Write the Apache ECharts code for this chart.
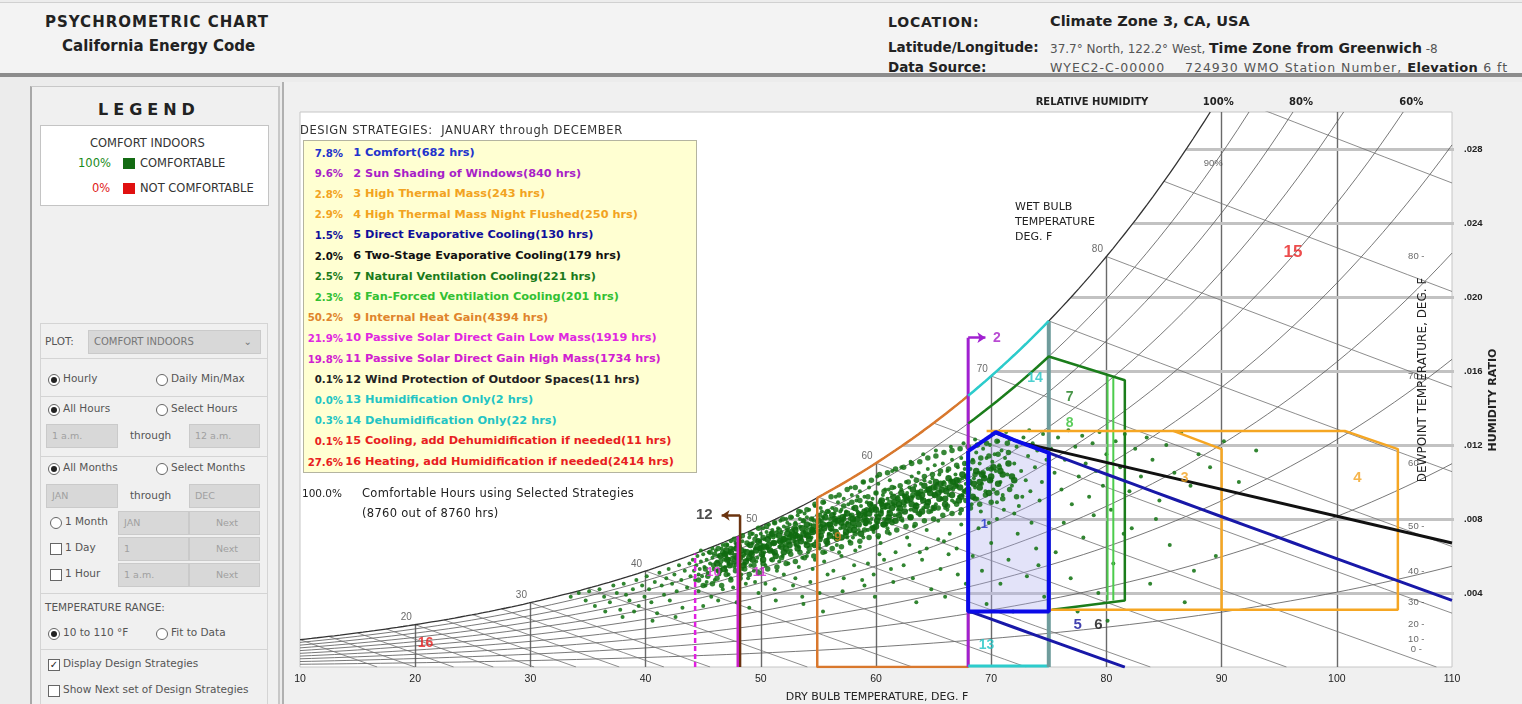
<!DOCTYPE html>
<html>
<head>
<meta charset="utf-8">
<title>Psychrometric Chart</title>
<script src="https://cdn.jsdelivr.net/npm/echarts@6/dist/echarts.min.js"></script>
<style>
  html,body{margin:0;padding:0}
  body{width:1522px;height:704px;background:#ececec;position:relative;overflow:hidden;
       font-family:"DejaVu Sans",Verdana,sans-serif;color:#222}
  .t{position:absolute;white-space:nowrap}
  #hdr{position:absolute;left:0;top:2px;width:1522px;height:70px;background:#f3f3f3;
       border-top:1px solid #d0d0d0;border-bottom:4px solid #8c8c8c}
  #panel{position:absolute;left:30px;top:86px;width:246px;height:618px;background:#f0f0f0;
         border-left:2px solid #a8a8a8;border-right:2px solid #c8c8c8;border-top:1px solid #c8c8c8}
  .grp{position:absolute;left:8px;width:228px;border:1px solid #d4d4d4;box-sizing:border-box}
  .radio{position:absolute;width:10px;height:10px;border:1px solid #666;border-radius:50%;background:#fff}
  .radio.on::after{content:"";position:absolute;left:2px;top:2px;width:6px;height:6px;border-radius:50%;background:#222}
  .chk{position:absolute;width:10px;height:10px;border:1px solid #666;background:#fff;font-size:10px;line-height:10px;text-align:center}
  .dd{position:absolute;height:24px;background:#d8d8d8;border:1px solid #cacaca;box-sizing:border-box;
      font-size:9.5px;color:#a0a0a0;line-height:22px;padding-left:5px}
  .lbl{font-size:10.5px;color:#555}
  #chartWrap{position:absolute;left:282px;top:82px;width:1240px;height:622px;background:#f0f0f0;
             border-left:2px solid #b0b0b0;box-sizing:border-box}
  #chart{position:absolute;left:-2px;top:0;width:1240px;height:622px}
  #strat{position:absolute;left:303px;top:140px;width:394px;height:333px;background:#ffffd2;
         border:1px solid #b4b4a0;box-sizing:border-box;z-index:5}
  .row{position:absolute;font-size:11.3px;font-weight:bold;white-space:nowrap;line-height:14px}
  .note{font-size:11.5px;color:#222;z-index:5;letter-spacing:0.3px}
</style>
</head>
<body>

<div id="hdr">
  <div class="t" style="left:45px;top:10px;font-size:15px;font-weight:bold;letter-spacing:1px">PSYCHROMETRIC CHART</div>
  <div class="t" style="left:62px;top:34px;font-size:15px;font-weight:bold">California Energy Code</div>
  <div class="t" style="left:888px;top:11px;font-size:14px;font-weight:bold;letter-spacing:0.8px">LOCATION:</div>
  <div class="t" style="left:1050px;top:10px;font-size:14.5px;font-weight:bold">Climate Zone 3, CA, USA</div>
  <div class="t" style="left:888px;top:36px;font-size:13.5px;font-weight:bold">Latitude/Longitude:</div>
  <div class="t" style="left:1050px;top:37px;font-size:12px;color:#555">37.7° North, 122.2° West, <b style="color:#222;font-size:14px">Time Zone from Greenwich</b> -8</div>
  <div class="t" style="left:888px;top:56px;font-size:13.5px;font-weight:bold">Data Source:</div>
  <div class="t" style="left:1050px;top:57px;font-size:12.5px;color:#555;letter-spacing:1px">WYEC2-C-00000&nbsp;&nbsp;&nbsp; 724930 WMO Station Number, <b style="color:#222;font-size:13px;letter-spacing:0.3px">Elevation</b> 6 ft</div>
</div>

<div id="panel">
  <div class="t" style="left:66px;top:13px;font-size:16px;font-weight:bold;letter-spacing:5px">LEGEND</div>
  <div style="position:absolute;left:8px;top:38px;width:229px;height:81px;background:#fff;border:1px solid #c4c4c4;box-sizing:border-box"></div>
  <div class="t" style="left:58px;top:49px;color:#333;font-size:11.5px">COMFORT INDOORS</div>
  <div class="t" style="left:46px;top:69px;font-size:11.5px;color:#1a8a1a">100%</div>
  <div style="position:absolute;left:91px;top:71px;width:12px;height:11px;background:#136b13"></div>
  <div class="t" style="left:108px;top:69px;color:#333;font-size:11.5px">COMFORTABLE</div>
  <div class="t" style="left:60px;top:94px;font-size:11.5px;color:#e02020">0%</div>
  <div style="position:absolute;left:91px;top:96px;width:12px;height:11px;background:#e01010"></div>
  <div class="t" style="left:108px;top:94px;color:#333;font-size:11.5px">NOT COMFORTABLE</div>

  <div class="grp" style="top:236px;height:36px"></div>
  <div class="t lbl" style="left:13px;top:248px">PLOT:</div>
  <div class="dd" style="left:56px;top:243px;width:173px;color:#777;font-size:10px">COMFORT INDOORS<span style="position:absolute;right:8px">⌄</span></div>

  <div class="grp" style="top:271px;height:39px"></div>
  <div class="radio on" style="left:16px;top:287px"></div><div class="t lbl" style="left:31px;top:285px">Hourly</div>
  <div class="radio" style="left:124px;top:287px"></div><div class="t lbl" style="left:139px;top:285px">Daily Min/Max</div>

  <div class="grp" style="top:309px;height:61px"></div>
  <div class="radio on" style="left:16px;top:317px"></div><div class="t lbl" style="left:31px;top:315px">All Hours</div>
  <div class="radio" style="left:124px;top:317px"></div><div class="t lbl" style="left:139px;top:315px">Select Hours</div>
  <div class="dd" style="left:14px;top:337px;width:72px">1 a.m.</div>
  <div class="t lbl" style="left:98px;top:342px">through</div>
  <div class="dd" style="left:157px;top:337px;width:71px">12 a.m.</div>

  <div class="grp" style="top:369px;height:138px"></div>
  <div class="radio on" style="left:16px;top:376px"></div><div class="t lbl" style="left:31px;top:374px">All Months</div>
  <div class="radio" style="left:124px;top:376px"></div><div class="t lbl" style="left:139px;top:374px">Select Months</div>
  <div class="dd" style="left:14px;top:397px;width:72px">JAN</div>
  <div class="t lbl" style="left:98px;top:402px">through</div>
  <div class="dd" style="left:157px;top:397px;width:71px">DEC</div>
  <div class="radio" style="left:18px;top:430px"></div><div class="t lbl" style="left:33px;top:428px">1 Month</div>
  <div class="dd" style="left:86px;top:424px;width:71px">JAN</div>
  <div class="dd" style="left:157px;top:424px;width:71px;text-align:center">Next</div>
  <div class="chk" style="left:18px;top:456px"></div><div class="t lbl" style="left:33px;top:454px">1 Day</div>
  <div class="dd" style="left:86px;top:450px;width:71px">1</div>
  <div class="dd" style="left:157px;top:450px;width:71px;text-align:center">Next</div>
  <div class="chk" style="left:18px;top:482px"></div><div class="t lbl" style="left:33px;top:480px">1 Hour</div>
  <div class="dd" style="left:86px;top:476px;width:71px">1 a.m.</div>
  <div class="dd" style="left:157px;top:476px;width:71px;text-align:center">Next</div>

  <div class="grp" style="top:506px;height:57px"></div>
  <div class="t lbl" style="left:13px;top:514px">TEMPERATURE RANGE:</div>
  <div class="radio on" style="left:16px;top:541px"></div><div class="t lbl" style="left:31px;top:539px">10 to 110 °F</div>
  <div class="radio" style="left:124px;top:541px"></div><div class="t lbl" style="left:139px;top:539px">Fit to Data</div>

  <div class="grp" style="top:562px;height:56px"></div>
  <div class="chk" style="left:16px;top:572px">✓</div><div class="t lbl" style="left:31px;top:570px">Display Design Strategies</div>
  <div class="chk" style="left:16px;top:598px"></div><div class="t lbl" style="left:31px;top:596px">Show Next set of Design Strategies</div>
</div>

<div id="chartWrap"><div id="chart"></div></div>

<div class="t note" style="left:300px;top:123px;font-size:11.5px;color:#333;letter-spacing:0.6px">DESIGN STRATEGIES:&nbsp; JANUARY through DECEMBER</div>
<div id="strat"></div>
<div class="t note" style="left:290px;top:487px;width:52px;text-align:right;letter-spacing:0;font-size:10.5px">100.0%</div>
<div class="t note" style="left:362px;top:486px">Comfortable Hours using Selected Strategies</div>
<div class="t note" style="left:362px;top:506px">(8760 out of 8760 hrs)</div>

<script>
// ---------------- design strategy table ----------------
const strategyNames = [
  'Comfort', 'Sun Shading of Windows', 'High Thermal Mass', 'High Thermal Mass Night Flushed',
  'Direct Evaporative Cooling', 'Two-Stage Evaporative Cooling', 'Natural Ventilation Cooling',
  'Fan-Forced Ventilation Cooling', 'Internal Heat Gain', 'Passive Solar Direct Gain Low Mass',
  'Passive Solar Direct Gain High Mass', 'Wind Protection of Outdoor Spaces', 'Humidification Only',
  'Dehumidification Only', 'Cooling, add Dehumidification if needed', 'Heating, add Humidification if needed'
];
const strategyHours = [682, 840, 243, 250, 130, 179, 221, 201, 4394, 1919, 1734, 11, 2, 22, 11, 2414];
const strategyColors = ['#2233cc', '#a81fc8', '#f2a321', '#f2a321', '#10109a', '#111111', '#1a7a1a',
  '#33c033', '#e0842c', '#e028e0', '#d020d0', '#222222', '#22c4c4', '#22c4c4', '#e82020', '#e82020'];
const HOURS_PER_YEAR = 8760;

// ---------------- chart axes ----------------
const T_MIN = 10, T_MAX = 110, T_STEP = 10;      // dry bulb, deg F
const W_MIN = 0, W_MAX = 0.030, W_STEP = 0.004;  // humidity ratio, lb/lb
const rhCurves = [0.1, 0.2, 0.3, 0.4, 0.5, 0.6, 0.7, 0.8, 0.9];
const rhTopLabels = [[1.0, '100%'], [0.8, '80%'], [0.6, '60%']];
const wetBulbLines = [10, 12.5, 15, 17.5, 20, 22.5, 25, 27.5, 30, 35, 40, 45, 50, 55, 60, 65, 70, 75, 80, 85, 90];
const wetBulbLabels = [20, 30, 40, 50, 60, 70, 80];
const dewPointLabels = [80, 70, 60, 50, 40, 30, 20, 10, 0];
const dryBulbVerticals = [20, 30, 40, 50, 60, 70, 80, 90, 100];
const humidityLines = [0.004, 0.008, 0.012, 0.016, 0.020, 0.024, 0.028];

// ---------------- hourly weather (dry bulb F, humidity ratio x 1e-4) ----------------
const HR_UNIT = 1e-4;
const hours33to44 = [33.5,38, 34.2,40, 34.8,36, 35.1,41, 35.6,33, 36.0,42, 36.4,38, 36.9,35, 37.2,44, 37.5,40,
  37.8,31, 38.1,45, 38.3,39, 38.6,36, 38.9,42, 39.2,47, 39.4,33, 39.7,44, 39.9,38, 40.1,49, 40.3,42, 40.5,35,
  40.8,46, 41.0,29, 41.2,51, 41.4,44, 41.6,39, 41.8,48, 42.0,53, 42.1,36, 42.3,45, 42.5,50, 42.7,41, 42.9,55,
  43.1,47, 43.2,32, 43.4,52, 43.6,43, 43.8,56, 43.9,49, 38.0,27, 40.6,25, 42.6,27, 36.5,30, 39.0,30];
const hours44to50 = [44.1,58, 44.2,52, 44.3,47, 44.4,55, 44.5,60, 44.6,41, 44.7,53, 44.8,57, 44.9,49, 45.0,61,
  45.1,54, 45.2,44, 45.3,58, 45.4,51, 45.5,62, 45.6,56, 45.7,38, 45.8,59, 45.9,53, 46.0,47, 46.1,63, 46.2,57,
  46.3,60, 46.4,50, 46.5,55, 46.6,64, 46.7,42, 46.8,58, 46.9,61, 47.0,52, 47.1,66, 47.2,56, 47.3,62, 47.4,48,
  47.5,59, 47.6,64, 47.7,54, 47.8,67, 47.9,35, 48.0,61, 48.1,57, 48.2,65, 48.3,50, 48.4,68, 48.5,60, 48.6,63,
  48.7,45, 48.8,58, 48.9,66, 49.0,70, 49.1,55, 49.2,62, 49.3,67, 49.4,52, 49.5,64, 49.6,71, 49.7,59, 49.8,40,
  49.9,68, 44.6,50, 45.3,46, 46.2,52, 47.0,60, 47.8,55, 48.4,53, 49.1,61, 49.6,57, 45.8,64, 46.7,66, 47.4,68,
  48.2,70, 49.3,72, 48.9,48, 46.3,36, 47.6,43, 49.0,32, 45.0,33, 48.1,38, 49.5,46, 44.8,63, 46.9,54, 48.6,56, 47.2,50];
const hours50to56 = [50.0,72, 50.1,66, 50.2,60, 50.2,75, 50.3,69, 50.4,55, 50.5,73, 50.6,64, 50.7,77, 50.8,70,
  50.9,58, 51.0,74, 51.0,67, 51.1,62, 51.2,78, 51.3,71, 51.4,52, 51.5,75, 51.5,68, 51.6,65, 51.7,79, 51.8,73,
  51.9,60, 52.0,76, 52.0,70, 52.1,66, 52.2,80, 52.3,74, 52.4,56, 52.5,77, 52.5,71, 52.6,63, 52.7,81, 52.8,75,
  52.9,68, 53.0,78, 53.0,48, 53.1,72, 53.2,82, 53.3,65, 53.4,76, 53.5,70, 53.5,84, 53.6,59, 53.7,79, 53.8,73,
  53.9,67, 54.0,81, 54.0,75, 54.1,62, 54.2,85, 54.3,77, 54.4,70, 54.5,53, 54.5,80, 54.6,74, 54.7,87, 54.8,68,
  54.9,82, 55.0,76, 55.0,71, 55.1,64, 55.2,86, 55.3,79, 55.4,73, 55.5,89, 55.5,57, 55.6,83, 55.7,77, 55.8,69,
  55.9,84, 50.4,45, 51.2,42, 52.0,50, 52.8,44, 53.6,38, 54.3,46, 55.1,40, 55.8,50, 51.6,57, 53.3,54, 54.7,58,
  50.9,63, 51.8,68, 52.6,72, 53.4,80, 54.1,72, 54.9,78, 55.4,81, 50.6,71, 51.4,73, 52.3,78, 53.1,75, 53.8,83,
  54.6,79, 55.3,84, 55.9,72, 50.3,62, 51.1,70, 52.2,69, 53.0,66, 53.9,71, 54.4,66, 55.2,74, 55.7,66, 52.4,62,
  54.0,60, 55.6,62, 51.3,36, 53.7,34, 55.4,30];
const hours56to62 = [56.0,80, 56.1,74, 56.2,86, 56.3,70, 56.4,83, 56.5,77, 56.6,66, 56.7,89, 56.8,81, 56.9,75,
  57.0,85, 57.0,60, 57.1,79, 57.2,91, 57.3,72, 57.4,84, 57.5,78, 57.6,88, 57.7,68, 57.8,82, 57.9,93, 58.0,76,
  58.0,86, 58.1,80, 58.2,63, 58.3,90, 58.4,84, 58.5,74, 58.6,95, 58.7,87, 58.8,79, 58.9,70, 59.0,92, 59.0,83,
  59.1,77, 59.2,89, 59.3,56, 59.4,97, 59.5,85, 59.6,80, 59.7,91, 59.8,73, 59.9,87, 60.0,94, 60.0,82, 60.1,78,
  60.2,99, 60.3,89, 60.4,67, 60.5,85, 60.6,93, 60.7,80, 60.8,96, 60.9,88, 61.0,75, 61.0,91, 61.1,84, 61.2,101,
  61.3,94, 61.4,79, 61.5,88, 61.6,97, 61.7,62, 61.8,91, 61.9,85, 56.3,52, 57.2,48, 58.1,55, 59.0,44, 59.8,50,
  60.7,58, 61.5,46, 56.8,62, 58.6,65, 60.2,70, 61.2,72, 57.5,70, 59.3,74, 60.9,77, 56.5,92, 57.8,97, 58.9,100,
  60.1,103, 61.4,106, 56.9,84, 57.7,80, 58.4,92, 59.6,88, 60.4,90, 61.1,96, 61.7,87, 56.2,78, 57.3,82, 58.2,76,
  59.1,82, 60.5,84, 61.6,82, 56.7,72, 58.0,70, 59.5,78, 60.8,86, 61.9,92, 57.1,41, 59.9,38, 61.3,53, 58.8,47, 60.3,61];
const hours62to68 = [62.0,90, 62.1,84, 62.2,96, 62.3,79, 62.4,93, 62.5,87, 62.6,100, 62.7,70, 62.8,91, 62.9,97,
  63.0,85, 63.1,103, 63.2,92, 63.3,76, 63.4,98, 63.5,88, 63.6,94, 63.7,105, 63.8,82, 63.9,99, 64.0,91, 64.1,86,
  64.2,101, 64.3,95, 64.4,64, 64.5,107, 64.6,90, 64.7,97, 64.8,84, 64.9,102, 65.0,93, 65.1,109, 65.2,88, 65.3,99,
  65.4,79, 65.5,104, 65.6,95, 65.7,91, 65.8,110, 65.9,100, 66.0,86, 66.1,97, 66.2,106, 66.3,93, 66.4,72, 66.5,101,
  66.6,112, 66.7,96, 66.8,89, 66.9,104, 67.0,98, 67.1,108, 67.2,92, 67.3,83, 67.4,113, 67.5,102, 67.6,95, 67.7,107,
  67.8,99, 67.9,110, 62.4,55, 63.2,48, 64.0,58, 64.8,42, 65.6,53, 66.3,61, 67.1,50, 67.8,45, 62.9,66, 64.4,74,
  65.9,68, 67.4,77, 63.5,35, 66.0,38, 62.2,108, 63.0,111, 64.1,115, 65.2,117, 66.5,119, 67.6,121, 63.6,83, 65.0,86,
  66.6,90, 62.7,94, 64.7,100, 66.2,85, 67.5,93, 63.8,62, 65.4,69, 67.0,64];
const hours68to75 = [68.0,100, 68.1,94, 68.2,107, 68.3,88, 68.4,112, 68.5,102, 68.6,97, 68.7,116, 68.8,91, 68.9,105,
  69.0,110, 69.1,84, 69.2,99, 69.3,118, 69.4,103, 69.5,95, 69.6,113, 69.7,107, 69.8,78, 69.9,120, 70.0,101, 70.1,111,
  70.2,96, 70.3,115, 70.4,106, 70.5,89, 70.6,122, 70.7,109, 70.8,100, 70.9,117, 71.0,93, 71.2,113, 71.4,104, 71.6,123,
  71.8,98, 72.0,110, 72.2,119, 72.4,87, 72.6,106, 72.8,124, 73.0,101, 73.2,114, 73.4,95, 73.6,121, 73.8,108, 74.0,117,
  74.2,90, 74.5,126, 74.8,112, 68.4,60, 69.2,52, 70.0,67, 70.8,45, 71.5,58, 72.3,72, 73.1,49, 73.9,64, 74.6,38,
  68.9,75, 70.5,80, 72.0,83, 73.5,78, 69.6,34, 71.9,30, 74.1,55, 68.6,123, 70.2,126, 71.3,127, 73.3,128, 71.1,85,
  72.7,92, 74.4,100];
const hours75to93 = [75.2,118, 75.5,105, 75.8,124, 76.1,96, 76.4,112, 76.7,128, 77.0,88, 77.3,119, 77.6,103, 77.9,125,
  78.2,110, 78.5,92, 78.8,121, 79.1,106, 79.4,127, 79.7,98, 80.0,115, 80.4,85, 80.8,122, 81.2,108, 81.6,126, 82.0,95,
  82.5,118, 83.0,103, 83.5,124, 84.0,112, 84.6,90, 85.2,120, 85.9,105, 86.5,127, 87.3,98, 88.0,115, 89.0,108,
  90.2,122, 91.5,100, 93.0,117, 75.6,62, 76.9,48, 78.0,70, 79.3,40, 80.6,56, 82.2,75, 83.8,45, 85.5,66, 87.6,52,
  76.3,78, 78.9,82, 81.5,72, 84.3,80, 86.8,35, 89.5,60, 77.5,30, 80.1,25];
// the most frequent conditions, where hours pile up along the mild, humid band
const hoursCoreBand = [46.2,56, 46.5,60, 46.8,53, 47.1,58, 47.4,62, 47.7,57, 47.9,64, 48.2,59, 48.5,55, 48.8,62,
  49.1,66, 49.3,58, 49.6,63, 49.8,68, 50.1,61, 50.3,65, 50.6,69, 50.8,63, 51.1,67, 51.3,60, 51.6,71, 51.8,65, 52.0,69,
  52.3,72, 52.5,66, 52.8,70, 53.0,74, 53.2,64, 53.5,68, 53.7,72, 54.0,77, 54.2,69, 54.5,73, 54.7,66, 55.0,79, 55.2,71,
  55.5,75, 55.7,68, 56.0,77, 56.2,82, 56.5,73, 56.7,79, 57.0,70, 57.2,76, 57.5,83, 57.7,74, 58.0,80, 58.2,86, 58.5,77,
  58.7,72, 59.0,84, 59.2,79, 59.5,88, 59.7,75, 60.0,85, 60.2,81, 60.5,90, 60.7,77, 61.0,87, 61.2,83, 61.5,92, 61.7,79,
  62.0,88, 62.2,94, 62.5,84, 62.7,90, 63.0,81, 63.2,96, 63.5,87, 63.7,92, 64.0,84, 64.2,98, 64.5,89, 64.7,94, 65.0,86,
  65.2,100, 65.5,91, 65.7,96, 66.0,88, 66.3,102, 66.6,93, 66.9,98, 67.2,90, 67.5,104, 67.8,95, 68.1,100, 68.4,92,
  68.7,106, 69.0,97, 69.4,102, 69.8,94, 70.2,108, 70.6,99, 71.0,104, 71.5,110, 72.0,101,
  46.4,52, 46.9,61, 47.3,55, 47.8,60, 48.3,63, 48.7,57, 49.2,61, 49.7,65, 50.2,58, 50.7,66, 51.2,62, 51.7,68, 52.2,64,
  52.7,73, 53.1,67, 53.6,75, 54.1,71, 54.6,76, 55.1,69, 55.6,81, 56.1,75, 56.6,70, 57.1,81, 57.6,77, 58.1,74, 58.6,82,
  59.1,78, 59.6,85, 60.1,79, 60.6,87, 61.1,81, 61.6,89, 62.1,86, 62.6,92, 63.1,88, 63.6,94, 64.1,90, 64.6,96, 65.1,93,
  65.6,99, 66.1,95, 66.7,100, 67.3,97, 67.9,103, 68.5,99, 69.2,104, 69.9,101, 70.8,106, 71.8,103,
  47.0,63, 48.0,66, 49.0,59, 50.0,64, 51.0,72, 52.0,62, 53.0,71, 54.0,66, 55.0,73, 56.0,71, 57.0,78, 58.0,78, 59.0,81,
  60.0,76, 61.0,79, 62.0,82, 63.0,91, 64.0,93, 65.0,97, 66.0,91, 67.0,101, 68.0,96, 69.0,100, 70.0,103, 52.4,68,
  53.4,70, 54.4,74, 55.4,77, 56.4,80, 57.4,73, 58.4,80, 59.4,83, 60.4,83, 61.4,86, 62.4,89, 63.4,85, 64.4,87, 65.4,94,
  66.4,97, 67.4,92];
// the drier and the more humid flanks of that band
const hoursBandFlanks = [44.6,47, 45.0,44, 45.4,49, 45.8,45, 46.2,48, 46.6,44, 47.0,50, 47.4,47, 47.8,52, 48.2,48,
  48.6,53, 49.0,50, 49.4,55, 49.8,51, 50.2,56, 50.6,53, 51.0,58, 51.4,54, 51.8,59, 52.2,56, 52.6,61, 53.0,57, 53.4,62,
  53.8,59, 54.2,64, 54.6,60, 55.0,66, 55.4,62, 55.8,67, 56.2,64, 56.6,69, 57.0,65, 57.4,71, 57.8,67, 58.2,72, 58.6,68,
  59.0,74, 59.4,70, 59.8,75, 60.2,71, 60.6,77, 61.0,73, 61.4,78, 61.8,74, 62.2,80, 62.6,76, 63.0,81, 63.4,77, 63.8,83,
  64.2,79, 64.6,84, 65.0,80, 65.4,86, 65.8,82, 66.2,87, 66.6,83, 67.0,88, 67.4,85, 67.8,90, 68.2,86, 68.6,91, 69.0,88,
  69.5,93, 70.0,89, 70.5,94, 71.0,91, 71.6,96, 72.2,92,
  45.2,53, 45.9,55, 46.5,57, 47.2,58, 47.9,59, 48.5,61, 49.2,62, 49.9,64, 50.5,65, 51.2,67, 51.9,68, 52.5,70, 53.2,71,
  53.9,73, 54.5,74, 55.2,76, 55.9,77, 56.5,79, 57.2,80, 57.9,82, 58.5,83, 59.2,85, 59.9,86, 60.5,88, 61.2,89, 61.9,91,
  62.5,92, 63.2,93, 63.9,95, 64.5,96, 65.2,97, 65.9,99, 66.5,100, 67.2,101, 67.9,103, 68.6,104, 69.3,105, 70.0,107, 70.7,108,
  45.6,62, 46.3,64, 47.0,66, 47.7,69, 48.4,71, 49.1,72, 49.8,75, 50.5,76, 51.2,78, 51.9,80, 52.6,81, 53.3,84, 54.0,85,
  54.7,88, 55.4,89, 56.1,92, 56.8,93, 57.5,96, 58.2,97, 58.9,100, 59.6,101, 60.3,104, 61.0,105, 61.7,107, 62.4,108,
  63.1,110, 63.8,111, 64.5,113, 65.2,114, 65.9,116, 66.6,117, 67.3,118, 68.0,119, 68.8,120, 69.6,121, 70.5,122, 71.4,121,
  46.0,61, 46.7,62, 47.4,64, 48.1,66, 48.8,67, 49.5,69, 50.2,70, 50.9,72, 51.6,74, 52.3,75, 53.0,77, 53.7,79, 54.4,80,
  55.1,82, 55.8,84, 56.5,85, 57.2,87, 57.9,89, 58.6,90, 59.3,92, 60.0,94, 60.7,95, 61.4,97, 62.1,98, 62.8,100, 63.5,101,
  64.2,103, 64.9,104, 65.6,106, 66.3,107, 67.0,109, 67.7,110, 68.4,111, 69.1,113, 69.8,114, 70.6,115, 71.5,116];

// ---------------- strategy zone outlines (dry bulb F, humidity ratio) ----------------
// plain [t, w] vertices, or {rh, from, to} / {wb, from, to} segments that follow a psychrometric curve
const comfortZone = [{rh: 0.8, from: 68, to: 70.4}, {wb: 66, from: 70.4, to: 75}, [75, 0.003], [68, 0.003]];
const sunShadingEdge = [[68, 0], [68, 0.0178]];
const sunShadingArrow = [[68, 0.0178], [69.5, 0.0178]];
const thermalMassZone = [[69.6, 0.01276], [85.8, 0.01276], [90, 0.01178], [90, 0.0031], [75, 0.0031]];
const nightFlushZone = [[85.8, 0.01276], [100.7, 0.01276], [105.3, 0.01178], [105.3, 0.0031], [90, 0.0031]];
const directEvapUpper = [{wb: 66, from: 70.4, to: 110}];
const directEvapLower = [{wb: 49, from: 68, to: 81.6}];
const twoStageEvapEdge = [[72.8, 0.0121], [110, 0.0067]];
const naturalVentZone = [{rh: 0.9, from: 68, to: 75}, [81.6, 0.0155], [81.6, 0.0036], [75.3, 0.0031]];
const fanForcedEdgeA = [[80.1, 0.0158], [80.1, 0.0036]];
const fanForcedEdgeB = [[80.6, 0.0157], [80.6, 0.0036]];
const internalGainZone = [{rh: 1, from: 54.9, to: 68}, [68, 0], [54.9, 0], {rh: 1, from: 54.9, to: 54.9}];
const lowMassEdge = [[44.3, 0], {rh: 1, from: 44.3, to: 44.3}];
const highMassEdge = [[48.0, 0], {rh: 1, from: 48.0, to: 48.0}];
const windEdge = [[48.2, 0], [48.2, 0.0082]];
const windArrow = [[48.2, 0.0082], [46.6, 0.0082]];
const humidifyEdge = [[68, 0.00006], [75, 0.00006]];
const humidityLimitEdge = [[75, 0], {rh: 1, from: 75, to: 75}];
const dehumidifyEdge = [{rh: 1, from: 68, to: 75}];

// zone number tags: [dry bulb, humidity ratio, text, strategy index, font size]
const zoneTags = [
  [69.4, 0.0077, '1', 0, 13], [70.5, 0.0178, '2', 1, 14], [86.8, 0.0102, '3', 2, 14], [101.8, 0.0102, '4', 3, 15],
  [77.5, 0.0023, '5', 4, 15], [79.3, 0.0023, '6', 5, 15], [76.8, 0.0146, '7', 6, 14], [76.8, 0.0132, '8', 7, 14],
  [56.7, 0.0070, '9', 8, 13], [45.9, 0.0051, '10', 9, 13], [49.9, 0.0051, '11', 10, 13], [45.1, 0.0082, '12', 11, 15],
  [69.6, 0.0012, '13', 12, 14], [73.8, 0.0156, '14', 13, 14], [96.2, 0.0224, '15', 14, 17], [20.9, 0.0013, '16', 15, 14]
];

// ---------------- psychrometrics (sea level) ----------------
const P_ATM = 101.325;
function satPress(tf) { const c = (tf - 32) / 1.8; return 0.61094 * Math.exp(17.625 * c / (c + 243.04)); }
function humRatio(tf, rh) { const pv = rh * satPress(tf); return 0.622 * pv / (P_ATM - pv); }
function wetBulbW(tf, twb) {
  const ws = humRatio(twb, 1);
  return ((1093 - 0.556 * twb) * ws - 0.240 * (tf - twb)) / (1093 + 0.444 * tf - twb);
}
function tempAt(w, rh) {
  let lo = -40, hi = 200;
  for (let i = 0; i < 60; i++) { const m = (lo + hi) / 2; if (humRatio(m, rh) < w) lo = m; else hi = m; }
  return (lo + hi) / 2;
}
function curve(f, a, b, step) {
  const out = [], n = Math.max(1, Math.ceil(Math.abs(b - a) / step));
  for (let i = 0; i <= n; i++) { const t = a + (b - a) * i / n; out.push([t, f(t)]); }
  return out;
}
function expand(path, closed) {
  const out = [];
  path.forEach(seg => {
    if (Array.isArray(seg)) out.push(seg);
    else if (seg.rh !== undefined) out.push(...curve(t => humRatio(t, seg.rh), seg.from, seg.to, 0.5));
    else out.push(...curve(t => wetBulbW(t, seg.wb), seg.from, seg.to, 2));
  });
  if (closed) out.push(out[0]);
  return out;
}
function pairs(flat) {
  const out = [];
  for (let i = 0; i < flat.length; i += 2) out.push([flat[i], flat[i + 1] * HR_UNIT]);
  return out;
}

// ---------------- strategy table ----------------
const box = document.getElementById('strat');
strategyNames.forEach((name, i) => {
  const top = 5 + i * 20.6;
  const pct = (strategyHours[i] / HOURS_PER_YEAR * 100).toFixed(1) + '%';
  const c = strategyColors[i];
  box.insertAdjacentHTML('beforeend',
    `<div class="row" style="left:-13px;top:${top + 0.5}px;width:52px;text-align:right;color:${c};font-size:10.2px">${pct}</div>` +
    `<div class="row" style="left:36px;top:${top}px;width:21px;text-align:right;color:${c}">${i + 1}</div>` +
    `<div class="row" style="left:61px;top:${top}px;color:${c}">${name}(${strategyHours[i]} hrs)</div>`);
});

// ---------------- chart ----------------
const chart = echarts.init(document.getElementById('chart'));
const tSatTop = tempAt(W_MAX, 1);
const fontStack = '"DejaVu Sans", Verdana, sans-serif';
const numFont = '"Liberation Sans", Arial, sans-serif';

const lineSeries = (pts, color, width, extra) => Object.assign({
  type: 'line', data: pts, showSymbol: false, symbol: 'none', silent: true, clip: true,
  lineStyle: {color: color, width: width}, z: 5
}, extra || {});

const series = [];
// dry bulb verticals up to saturation
series.push({
  type: 'lines', coordinateSystem: 'cartesian2d', silent: true, z: 1,
  lineStyle: {color: '#6a6a6a', width: 1.4, opacity: 1},
  data: dryBulbVerticals.map(t => ({coords: [[t, 0], [t, Math.min(humRatio(t, 1), W_MAX)]]}))
});
// humidity ratio horizontals from saturation to the right edge
series.push({
  type: 'lines', coordinateSystem: 'cartesian2d', silent: true, z: 1,
  lineStyle: {color: '#c2c2c2', width: 3, opacity: 1},
  data: humidityLines.map(w => ({coords: [[tempAt(w, 1), w], [T_MAX + 0.3, w]]}))
});
// relative humidity curves
series.push({
  type: 'lines', coordinateSystem: 'cartesian2d', polyline: true, silent: true, clip: true, z: 2,
  lineStyle: {color: '#555', width: 0.8, opacity: 1},
  data: rhCurves.map(rh => ({coords: curve(t => humRatio(t, rh), T_MIN, Math.min(T_MAX, tempAt(W_MAX, rh)), 1)}))
});
// wet bulb lines
series.push({
  type: 'lines', coordinateSystem: 'cartesian2d', polyline: true, silent: true, clip: true, z: 2,
  lineStyle: {color: '#707070', width: 0.8, opacity: 1},
  data: wetBulbLines.map(twb => {
    const tEnd = Math.min(T_MAX, twb + (1093 - 0.556 * twb) * humRatio(twb, 1) / 0.240);
    const tStart = humRatio(twb, 1) > W_MAX ? twb + 0.5 : twb;
    const pts = curve(t => wetBulbW(t, twb), tStart, tEnd, 2).filter(p => p[1] <= W_MAX + 0.002);
    return {coords: pts};
  })
});
// saturation curve
series.push(lineSeries(curve(t => humRatio(t, 1), T_MIN, tSatTop, 0.5), '#333', 1.3, {z: 3}));

// hourly conditions
series.push({
  type: 'scatter', silent: true, z: 4, symbol: 'circle', symbolSize: 4,
  itemStyle: {color: '#1b781b', opacity: 0.9},
  data: [].concat(pairs(hours33to44), pairs(hours44to50), pairs(hours50to56), pairs(hours56to62),
                  pairs(hours62to68), pairs(hours68to75), pairs(hours75to93))
});
series.push({
  type: 'scatter', silent: true, z: 4, symbol: 'circle', symbolSize: 5.5,
  itemStyle: {color: '#157215', opacity: 0.85},
  data: pairs(hoursBandFlanks)
});
series.push({
  type: 'scatter', silent: true, z: 4, symbol: 'circle', symbolSize: 6.5,
  itemStyle: {color: '#0f6a0f', opacity: 0.9},
  data: pairs(hoursCoreBand)
});

// comfort zone shading
const comfortPts = expand(comfortZone, true);
series.push({
  type: 'custom', silent: true, z: 3, data: [[70, 0.006]],
  renderItem: (params, api) => ({
    type: 'polygon',
    shape: {points: comfortPts.map(p => api.coord(p))},
    style: {fill: 'rgba(175,175,238,0.35)'}
  })
});

// strategy outlines
series.push(lineSeries(expand(internalGainZone), '#d9782d', 2.5));
series.push(lineSeries(expand(lowMassEdge), '#e020e0', 2.5, {lineStyle: {color: '#e020e0', width: 2.5, type: [5, 3]}}));
series.push(lineSeries(expand(windEdge), '#6b3410', 2.5));
series.push(lineSeries(expand(highMassEdge), '#c81fc8', 2.5));
series.push({type: 'lines', coordinateSystem: 'cartesian2d', silent: true, z: 6, symbol: ['none', 'arrow'], symbolSize: 8,
  lineStyle: {color: '#6b3410', width: 2.5, opacity: 1}, data: [{coords: windArrow}]});
series.push(lineSeries(expand(sunShadingEdge), '#a020d0', 3));
series.push({type: 'lines', coordinateSystem: 'cartesian2d', silent: true, z: 6, symbol: ['none', 'arrow'], symbolSize: 8,
  lineStyle: {color: '#a020d0', width: 2.5, opacity: 1}, data: [{coords: sunShadingArrow}]});
series.push(lineSeries(expand(humidifyEdge), '#2ccccc', 3));
series.push(lineSeries(expand(humidityLimitEdge), '#6f9c9c', 4));
series.push(lineSeries(expand(dehumidifyEdge), '#2ccccc', 2.5));
series.push(lineSeries(expand(fanForcedEdgeA), '#4ccc4c', 2));
series.push(lineSeries(expand(fanForcedEdgeB), '#4ccc4c', 2));
series.push(lineSeries(expand(naturalVentZone), '#1b7d1b', 2.5));
series.push(lineSeries(expand(thermalMassZone), '#f5a623', 2.5));
series.push(lineSeries(expand(nightFlushZone), '#f5a623', 2.5));
series.push(lineSeries(expand(directEvapUpper), '#1818a8', 3));
series.push(lineSeries(expand(directEvapLower), '#1818a8', 3));
series.push(lineSeries(expand(twoStageEvapEdge), '#111', 3));
series.push(lineSeries(comfortPts, '#0a0ae8', 4, {z: 7}));

// text placed on the chart in data coordinates
const textItems = [];
zoneTags.forEach(([t, w, txt, si, fs]) => textItems.push({
  value: [t, w],
  label: {formatter: txt, color: strategyColors[si], fontSize: fs, fontWeight: 'bold'}
}));
wetBulbLabels.forEach(t => textItems.push({
  value: [t, humRatio(t, 1)],
  label: {formatter: String(t), color: '#444', fontSize: 10, offset: [-9, -7]}
}));
dewPointLabels.forEach(t => textItems.push({
  value: [106.9, humRatio(t, 1)],
  label: {formatter: String(t) + ' -', color: '#444', fontSize: 9.5}
}));
textItems.push({value: [tempAt(0.0271, 0.9), 0.0271], label: {formatter: '90%', color: '#444', fontSize: 9.5, offset: [0, -2]}});
series.push({
  type: 'scatter', silent: true, z: 10, symbolSize: 1, itemStyle: {color: 'rgba(0,0,0,0)'}, clip: false,
  label: {show: true, position: 'inside', fontFamily: numFont},
  data: textItems
});

const option = {
  animation: false,
  backgroundColor: 'transparent',
  grid: {left: 18, right: 70, top: 30, bottom: 37, show: true, backgroundColor: '#ffffff',
         borderColor: '#c6c6c6', borderWidth: 1, containLabel: false, outerBoundsMode: 'none'},
  xAxis: {
    type: 'value', min: T_MIN, max: T_MAX, interval: T_STEP,
    axisLine: {show: false}, axisTick: {show: false}, splitLine: {show: false},
    axisLabel: {color: '#222', fontSize: 10.5, margin: 7, fontFamily: numFont}
  },
  yAxis: {
    type: 'value', position: 'right', min: W_MIN, max: W_MAX, interval: W_STEP,
    axisLine: {show: false}, axisTick: {show: false}, splitLine: {show: false},
    axisLabel: {
      color: '#222', fontSize: 9.5, fontWeight: 'bold', margin: 12, fontFamily: numFont,
      formatter: v => (v <= 0 || v > 0.0285) ? '' : '.' + String(Math.round(v * 1000)).padStart(3, '0')
    }
  },
  series: series
};
chart.setOption(option);

// captions around the plot
const px = (t, w) => chart.convertToPixel({gridIndex: 0}, [t, w]);
const txt = (x, y, text, font, align, extra) => Object.assign({
  type: 'text', x: x, y: y, silent: true, z: 20,
  style: {text: text, font: font, fill: '#222', textAlign: align || 'center', align: align || 'center',
          textVerticalAlign: 'middle', verticalAlign: 'middle'}
}, extra || {});
const graphics = [];
graphics.push(txt(810, 20, 'RELATIVE HUMIDITY', 'bold 10px ' + fontStack));
rhTopLabels.forEach(([rh, label]) => {
  const p = px(tempAt(W_MAX, rh), W_MAX);
  graphics.push(txt(p[0] + 8, 20, label, 'bold 10px ' + fontStack));
});
graphics.push(txt(733, 125, 'WET BULB', '11px ' + fontStack, 'left'));
graphics.push(txt(733, 140, 'TEMPERATURE', '11px ' + fontStack, 'left'));
graphics.push(txt(733, 155, 'DEG. F', '11px ' + fontStack, 'left'));
graphics.push(txt(1141, 298, 'DEWPOINT TEMPERATURE, DEG. F', '12px ' + fontStack, 'center', {rotation: Math.PI / 2}));
graphics.push(txt(1211, 318, 'HUMIDITY RATIO', 'bold 11px ' + fontStack, 'center', {rotation: Math.PI / 2}));
graphics.push(txt(595, 615, 'DRY BULB TEMPERATURE, DEG. F', '11px ' + fontStack));
chart.setOption({graphic: graphics});
</script>
</body>
</html>
